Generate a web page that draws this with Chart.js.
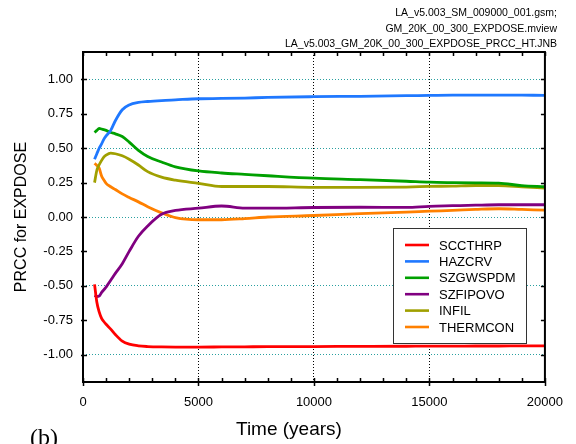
<!DOCTYPE html>
<html>
<head>
<meta charset="utf-8">
<script src="https://cdn.jsdelivr.net/npm/chart.js@4/dist/chart.umd.min.js"></script>
<style>
  body { margin: 0; background: #fff; }
  #wrap { position: relative; width: 576px; height: 444px; overflow: hidden; }
  #notes { position: absolute; right: 19px; top: 5px; font: 10.5px "Liberation Sans", Arial, sans-serif; line-height: 15.5px; text-align: right; color: #000; }
  #xtitle { position: absolute; left: 236px; top: 418px; font: 19px "Liberation Sans", Arial, sans-serif; line-height: 22px; color: #000; white-space: nowrap; }
  #panel { position: absolute; left: 30px; top: 424px; font: 24px "Liberation Serif", "Times New Roman", serif; line-height: 26px; color: #000; }
</style>
</head>
<body>
<div id="wrap">
  <canvas id="chart" width="576" height="444"></canvas>
  <div id="notes">LA_v5.003_SM_009000_001.gsm;<br>GM_20K_00_300_EXPDOSE.mview<br>LA_v5.003_GM_20K_00_300_EXPDOSE_PRCC_HT.JNB</div>
  <div id="xtitle">Time (years)</div>
  <div id="panel">(b)</div>
</div>
<script>
// time axis (years) shared by all series
const times = [500, 600, 700, 800, 900, 1000, 1200, 1400, 1700, 2000, 2400, 2800, 3400, 4000,
    5000, 6000, 7000, 8000, 10000, 12000, 14000, 15000, 16000, 17000, 18000, 19000, 20000];

const sccthrp = [-0.49, -0.62, -0.69, -0.735, -0.76, -0.78, -0.815, -0.855, -0.903, -0.925, -0.937, -0.942, -0.945, -0.946,
    -0.946, -0.945, -0.944, -0.943, -0.942, -0.941, -0.940, -0.939, -0.939, -0.938, -0.938, -0.937, -0.937];
const hazcrv = [0.42, 0.46, 0.50, 0.53, 0.565, 0.59, 0.63, 0.70, 0.78, 0.815, 0.833, 0.84, 0.847, 0.852,
    0.86, 0.862, 0.865, 0.87, 0.875, 0.878, 0.882, 0.884, 0.886, 0.887, 0.887, 0.886, 0.885];
const szgwspdm = [0.615, 0.63, 0.645, 0.64, 0.635, 0.63, 0.615, 0.605, 0.585, 0.545, 0.485, 0.44, 0.40, 0.365,
    0.335, 0.32, 0.31, 0.30, 0.282, 0.272, 0.26, 0.253, 0.25, 0.248, 0.246, 0.228, 0.22];
const szfipovo = [-0.57, -0.578, -0.575, -0.55, -0.53, -0.51, -0.46, -0.41, -0.34, -0.25, -0.14, -0.065, 0.02, 0.048,
    0.064, 0.08, 0.065, 0.064, 0.069, 0.071, 0.07, 0.078, 0.082, 0.086, 0.089, 0.089, 0.089];
const infil = [0.25, 0.34, 0.38, 0.41, 0.435, 0.45, 0.465, 0.46, 0.445, 0.42, 0.378, 0.33, 0.29, 0.268,
    0.245, 0.222, 0.222, 0.222, 0.215, 0.215, 0.218, 0.222, 0.225, 0.229, 0.229, 0.22, 0.21];
const thermcon = [0.39, 0.375, 0.355, 0.30, 0.27, 0.245, 0.22, 0.20, 0.168, 0.142, 0.11, 0.075, 0.03, -0.005,
    -0.02, -0.02, -0.012, 0.0, 0.011, 0.025, 0.035, 0.042, 0.048, 0.055, 0.06, 0.055, 0.05];

const seriesNames = ['SCCTHRP', 'HAZCRV', 'SZGWSPDM', 'SZFIPOVO', 'INFIL', 'THERMCON'];
const seriesValues = [sccthrp, hazcrv, szgwspdm, szfipovo, infil, thermcon];
const seriesColors = ['#ff0000', '#1f78ff', '#00a000', '#800080', '#a0a000', '#ff8000'];

const xTicks = [0, 5000, 10000, 15000, 20000];
const yTicks = [-1.0, -0.75, -0.5, -0.25, 0.0, 0.25, 0.5, 0.75, 1.0];

const FONT = '"Liberation Sans", Arial, sans-serif';

const datasets = seriesNames.map(function (name, i) {
    return {
        label: name,
        data: times.map(function (t, j) { return { x: t, y: seriesValues[i][j] }; }),
        borderColor: seriesColors[i],
        backgroundColor: seriesColors[i],
        borderWidth: 2.8,
        pointRadius: 0,
        cubicInterpolationMode: 'monotone'
    };
});

// frame, tick marks and the boxed legend
const framePlugin = {
    id: 'frame',
    afterDraw(chart) {
        const ctx = chart.ctx;
        const a = chart.chartArea;
        const xs = chart.scales.x;
        const ys = chart.scales.y;
        ctx.save();
        ctx.strokeStyle = '#000';
        ctx.lineWidth = 1.5;
        ctx.beginPath();
        for (let t = 0; t <= 20000; t += 1000) {
            const px = Math.round(xs.getPixelForValue(t)) + 0.5;
            const major = t % 5000 === 0;
            ctx.moveTo(px, a.bottom - 4);
            ctx.lineTo(px, a.bottom + (major ? 4 : 0));
            ctx.moveTo(px, a.top);
            ctx.lineTo(px, a.top + 4);
        }
        yTicks.forEach(function (v) {
            const py = Math.round(ys.getPixelForValue(v)) + 0.5;
            ctx.moveTo(a.left - 2, py);
            ctx.lineTo(a.left + 4, py);
            ctx.moveTo(a.right - 4, py);
            ctx.lineTo(a.right, py);
        });
        ctx.stroke();

        ctx.lineWidth = 2;
        ctx.strokeRect(a.left, a.top, a.right - a.left, a.bottom - a.top);

        // legend
        const lx = 393, ly = 228, lw = 133, lh = 115;
        ctx.fillStyle = '#fff';
        ctx.fillRect(lx, ly, lw, lh);
        ctx.lineWidth = 1;
        ctx.strokeStyle = '#333';
        ctx.strokeRect(lx + 0.5, ly + 0.5, lw, lh);
        ctx.font = '13px ' + FONT;
        ctx.textBaseline = 'middle';
        chart.data.datasets.forEach(function (ds, i) {
            const ry = ly + 17 + i * 16.4;
            ctx.strokeStyle = ds.borderColor;
            ctx.lineWidth = 2.6;
            ctx.beginPath();
            ctx.moveTo(lx + 12, ry);
            ctx.lineTo(lx + 36, ry);
            ctx.stroke();
            ctx.fillStyle = '#000';
            ctx.fillText(ds.label, lx + 46, ry + 1);
        });
        ctx.restore();
    }
};

new Chart(document.getElementById('chart'), {
    type: 'line',
    data: { datasets: datasets },
    plugins: [framePlugin],
    options: {
        responsive: false,
        animation: false,
        layout: { padding: { left: 0, right: 21, top: 52, bottom: 0 } },
        plugins: { legend: { display: false }, tooltip: { enabled: false } },
        scales: {
            x: {
                type: 'linear',
                min: 0,
                max: 20000,
                afterFit(scale) { scale.height = 62; },
                afterBuildTicks(scale) { scale.ticks = xTicks.map(function (v) { return { value: v }; }); },
                border: { display: false, dash: [1, 2] },
                grid: {
                    drawTicks: false,
                    color: function (c) { return (c.tick.value > 0 && c.tick.value < 20000) ? '#000' : 'rgba(0,0,0,0)'; },
                    lineWidth: 1
                },
                ticks: {
                    padding: 13,
                    maxRotation: 0,
                    color: '#000',
                    font: { family: FONT, size: 13 },
                    callback: function (v) { return String(v); }
                }
            },
            y: {
                min: -1.2,
                max: 1.2,
                afterFit(scale) { scale.width = 83; },
                afterBuildTicks(scale) { scale.ticks = yTicks.map(function (v) { return { value: v }; }); },
                border: { display: false, dash: [1, 2] },
                grid: {
                    drawTicks: false,
                    color: function (c) {
                        const v = Math.round(c.tick.value * 100);
                        return (v % 50 === 0) ? '#2aa0a0' : 'rgba(0,0,0,0)';
                    },
                    lineWidth: 1
                },
                ticks: {
                    padding: 10,
                    color: '#000',
                    font: { family: FONT, size: 13 },
                    callback: function (v) { return Number(v).toFixed(2); }
                },
                title: {
                    display: true,
                    text: 'PRCC for EXPDOSE',
                    color: '#000',
                    font: { family: FONT, size: 16 },
                    padding: { top: 12, bottom: 0 }
                }
            }
        }
    }
});
</script>
</body>
</html>
